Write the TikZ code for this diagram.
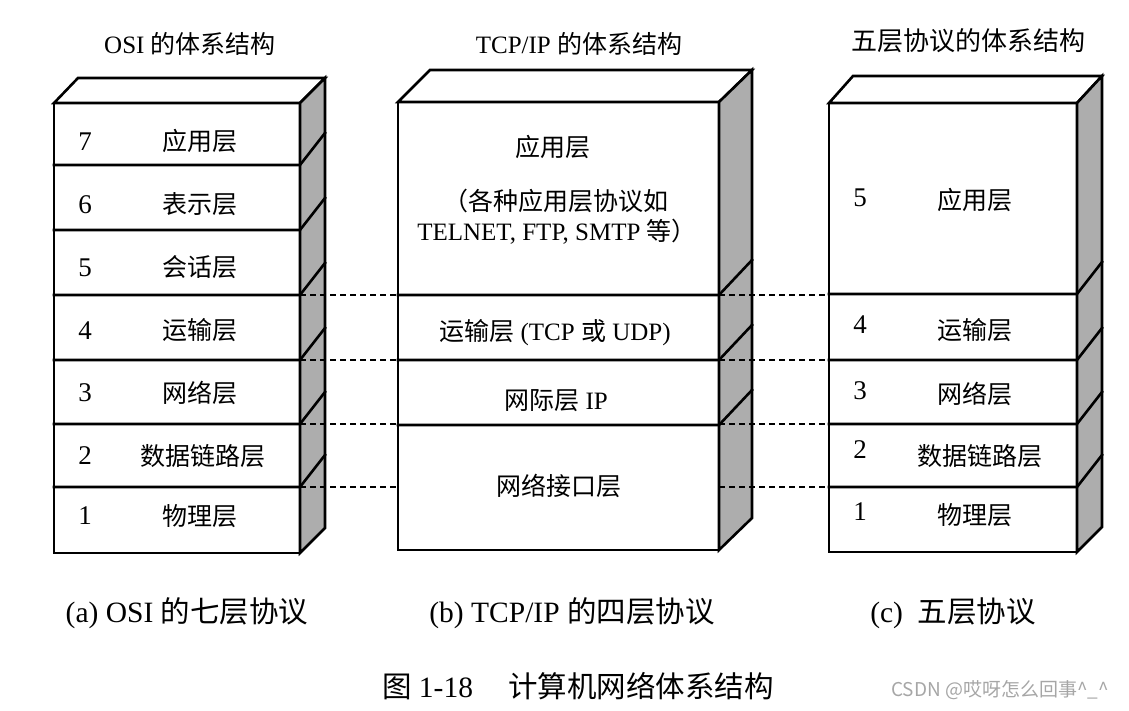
\documentclass[tikz,border=0pt]{standalone}
\usepackage{fontspec}
\setmainfont{Liberation Serif}
\newfontfamily\cjk{Noto Sans CJK SC}
\newcommand\zh[1]{{\cjk #1}}
\tikzset{
  x=1pt, y=-1pt,
  boxline/.style={line width=2.6pt, line join=miter, line cap=rect},
  sidefill/.style={fill=black!32},
  topfill/.style={fill=white},
  conn/.style={dash pattern=on 6pt off 4pt, line width=1.6pt},
  lbl/.style={font=\fontsize{25}{30}\selectfont, inner sep=0pt, anchor=center},
  numtxt/.style={font=\fontsize{27}{30}\selectfont, inner sep=0pt, anchor=center},
  ttl/.style={font=\fontsize{25}{28}\selectfont, inner sep=0pt, anchor=center},
  captxt/.style={font=\fontsize{29.5}{33}\selectfont, inner sep=0pt, anchor=center},
  wm/.style={font=\cjk\fontsize{19}{22}\selectfont, text=black!35, inner sep=0pt, anchor=center}
}
\begin{document}
\begin{tikzpicture}
\useasboundingbox (0,0) rectangle (1129,710);

% ---------- Box (a) ----------
\filldraw[boxline, topfill] (54,103) -- (78,78) -- (325,78) -- (300,103) -- cycle;
\filldraw[boxline, sidefill] (300,103) -- (325,78) -- (325,528) -- (300,553) -- cycle;
\draw[boxline] (54,103) rectangle (300,553);
\foreach \y in {165,230,295,360,424,487} {
  \draw[boxline] (54,\y) -- (300,\y) -- (325,\y-32);
}
% ---------- Box (b) ----------
\filldraw[boxline, topfill] (398,102) -- (430,70) -- (752,70) -- (719,102) -- cycle;
\filldraw[boxline, sidefill] (719,102) -- (752,70) -- (752,518) -- (719,550) -- cycle;
\draw[boxline] (398,102) rectangle (719,550);
\foreach \y in {295,360,425} {
  \draw[boxline] (398,\y) -- (719,\y) -- (752,\y-35);
}
% ---------- Box (c) ----------
\filldraw[boxline, topfill] (829,103) -- (853,76) -- (1102,76) -- (1077,103) -- cycle;
\filldraw[boxline, sidefill] (1077,103) -- (1102,76) -- (1102,527) -- (1077,552) -- cycle;
\draw[boxline] (829,103) rectangle (1077,552);
\foreach \y in {294,360,424,487} {
  \draw[boxline] (829,\y) -- (1077,\y) -- (1102,\y-32);
}

% ---------- connector end points ----------
\coordinate (aR4) at (300,295); \coordinate (aR3) at (300,360);
\coordinate (aR2) at (300,424); \coordinate (aR1) at (300,487);
\coordinate (bL4) at (398,295); \coordinate (bL3) at (398,360);
\coordinate (bL2) at (398,424); \coordinate (bL1) at (398,487);
\coordinate (bR4) at (719,295); \coordinate (bR3) at (719,360);
\coordinate (bR2) at (719,424); \coordinate (bR1) at (719,487);
\coordinate (cL4) at (829,295); \coordinate (cL3) at (829,360);
\coordinate (cL2) at (829,424); \coordinate (cL1) at (829,487);
\foreach \i in {1,2,3,4} {
  \draw[conn] (aR\i) -- (bL\i);
  \draw[conn] (bR\i) -- (cL\i);
}

% ---------- labels (a) ----------
\node[numtxt] (n7) at (85,142) {7};  \node[lbl] (a7) at (200,141) {\zh{应用层}};
\node[numtxt] (n6) at (85,205) {6};  \node[lbl] (a6) at (200,204) {\zh{表示层}};
\node[numtxt] (n5) at (85,268) {5};  \node[lbl] (a5) at (200,267) {\zh{会话层}};
\node[numtxt] (n4) at (85,331) {4};  \node[lbl] (a4) at (200,330) {\zh{运输层}};
\node[numtxt] (n3) at (85,393) {3};  \node[lbl] (a3) at (200,393) {\zh{网络层}};
\node[numtxt] (n2) at (85,456) {2};  \node[lbl] (a2) at (203,456) {\zh{数据链路层}};
\node[numtxt] (n1) at (85,516) {1};  \node[lbl] (a1) at (200,516) {\zh{物理层}};

% ---------- labels (b) ----------
\node[lbl] (b4a) at (553,147) {\zh{应用层}};
\node[lbl] (b4b) at (556,201) {\zh{（各种应用层协议如}};
\node[lbl] (b4c) at (557,232) {TELNET, FTP, SMTP \zh{等）}};
\node[lbl] (b3) at (555,333) {\zh{运输层} (TCP \zh{或} UDP)};
\node[lbl] (b2) at (556,401) {\zh{网际层} IP};
\node[lbl] (b1) at (559,486) {\zh{网络接口层}};

% ---------- labels (c) ----------
\node[numtxt] (m5) at (860,198) {5};  \node[lbl] (c5) at (975,200) {\zh{应用层}};
\node[numtxt] (m4) at (860,325) {4};  \node[lbl] (c4) at (975,330) {\zh{运输层}};
\node[numtxt] (m3) at (860,391) {3};  \node[lbl] (c3) at (975,394) {\zh{网络层}};
\node[numtxt] (m2) at (860,450) {2};  \node[lbl] (c2) at (980,456) {\zh{数据链路层}};
\node[numtxt] (m1) at (860,512) {1};  \node[lbl] (c1) at (975,515) {\zh{物理层}};

% ---------- titles ----------
\node[ttl] (ta) at (190,44) {OSI \zh{的体系结构}};
\node[ttl] (tb) at (579,44) {TCP/IP \zh{的体系结构}};
\node[ttl, font=\cjk\fontsize{26}{30}\selectfont] (tc) at (968,41) {五层协议的体系结构};

% ---------- captions ----------
\node[captxt] (ca) at (187,613) {(a) OSI \zh{的七层协议}};
\node[captxt] (cb) at (572,613) {(b) TCP/IP \zh{的四层协议}};
\node[captxt] (cc) at (953,613) {(c)\ \ \zh{五层协议}};
\node[captxt] (fig) at (578,686) {\zh{图} 1-18\hspace{1.2em}\zh{计算机网络体系结构}};
\node[wm] (wmk) at (1000,690) {CSDN @哎呀怎么回事\^{}\_\^{}};
\end{tikzpicture}
\end{document}
